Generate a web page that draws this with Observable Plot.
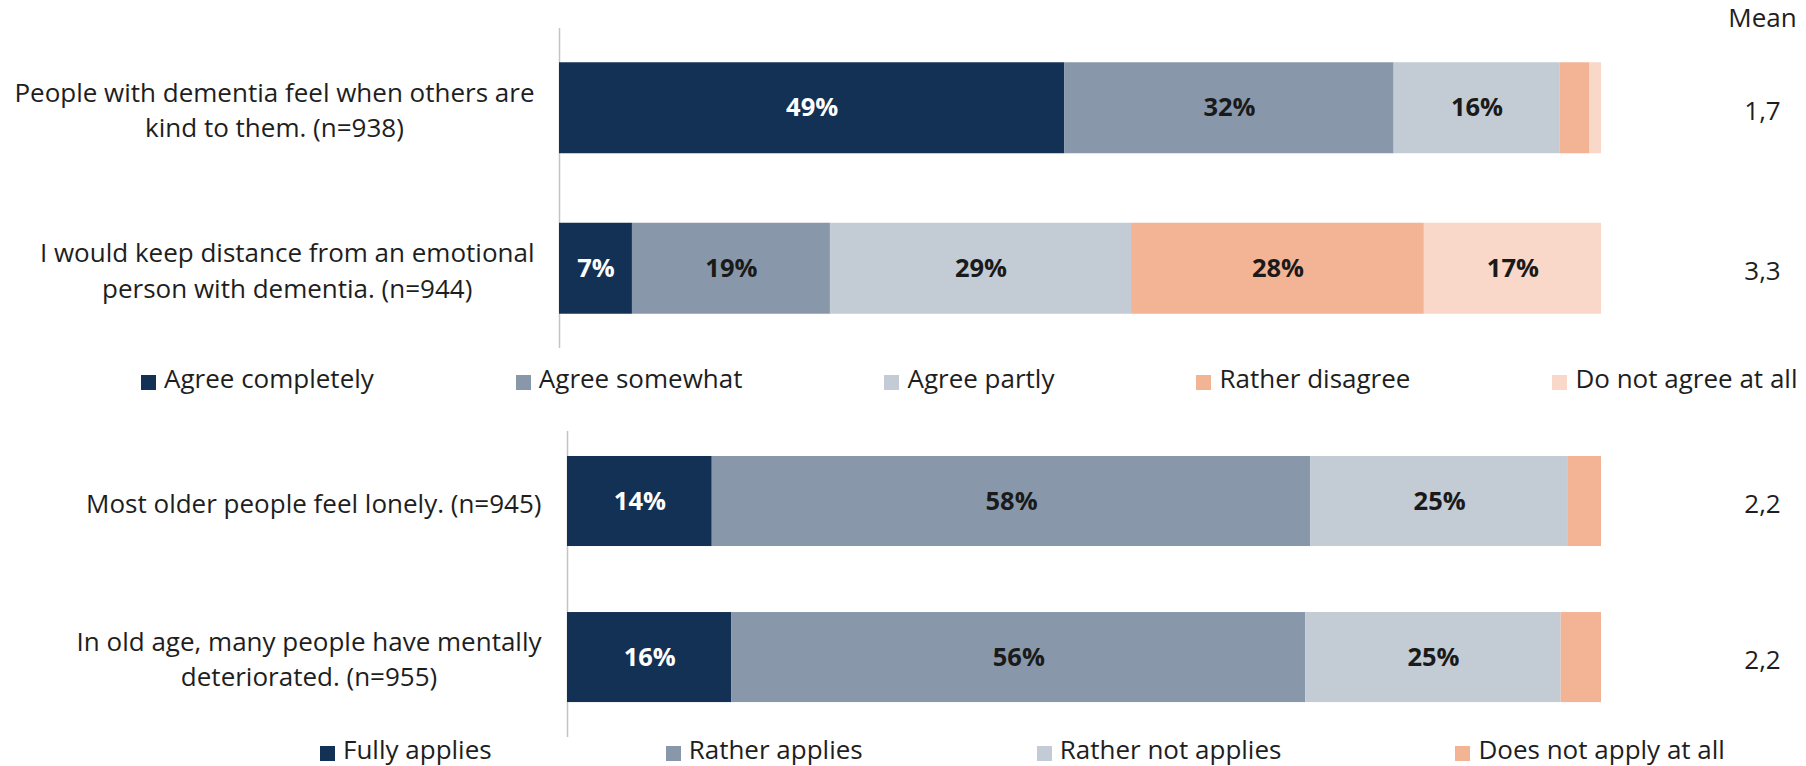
<!DOCTYPE html>
<html>
<head>
<meta charset="utf-8">
<script src="https://cdn.jsdelivr.net/npm/d3@7"></script>
<script src="https://cdn.jsdelivr.net/npm/@observablehq/plot@0.6"></script>
<style>
html, body { margin: 0; padding: 0; background: #fff; }
body { width: 1806px; height: 766px; overflow: hidden; font-family: "Open Sans", sans-serif; color: #222; }
svg { display: block; }
.leg { display: flex; align-items: center; box-sizing: border-box; }
.leg > div { margin: 0 !important; min-height: 0 !important; font-family: "Open Sans", sans-serif !important; font-size: 26px !important; color: #1e1e1e; display: flex; flex-wrap: nowrap; align-items: center; }
.leg > div > span { margin-right: var(--gap) !important; display: inline-flex; align-items: center; white-space: nowrap; }
.leg > div > span > svg { margin-right: 8px !important; position: relative; top: 4px; }
#legA { height: 46px; padding-left: 141px; --gap: 142px; }
#legB { height: 24px; padding-left: 320px; --gap: 174px; }
</style>
</head>
<body>
<div id="chartA"></div>
<div id="legA" class="leg"></div>
<div id="chartB"></div>
<div id="legB" class="leg"></div>
<script>
// ---- data ----
const agreeCategories = ["Agree completely", "Agree somewhat", "Agree partly", "Rather disagree", "Do not agree at all"];
const agreeQuestions = [
  "People with dementia feel when others are\nkind to them. (n=938)",
  "I would keep distance from an emotional\nperson with dementia. (n=944)"
];
const agreeValues = [
  [48.5, 31.6, 15.9, 2.9, 1.1],
  [7.0, 19.0, 28.9, 28.1, 17.0]
];
const agreeMeans = [1.7, 3.3];

const applyCategories = ["Fully applies", "Rather applies", "Rather not applies", "Does not apply at all"];
const applyQuestions = [
  "Most older people feel lonely. (n=945)",
  "In old age, many people have mentally\ndeteriorated. (n=955)"
];
const applyValues = [
  [14.0, 57.9, 24.9, 3.2],
  [15.9, 55.5, 24.7, 3.9]
];
const applyMeans = [2.2, 2.2];

// ---- style ----
const palette = ["#133154", "#8898aa", "#c3cbd4", "#f3b496", "#f9d8c9"];
const FONT = 26;
const BOLD = 25.5;
const ctx = document.createElement("canvas").getContext("2d");
ctx.font = `${FONT}px "Open Sans"`;
const blockWidth = s => d3.max(s.split("\n"), l => ctx.measureText(l).width);

function panel({categories, questions, values, means, height, marginLeft, marginTop, marginBottom,
                paddingInner, paddingOuter, align, labelGap, meanHeader}) {
  const rows = questions.flatMap((q, i) => categories.map((c, j) => ({question: q, category: c, value: values[i][j]})));
  const meanRows = questions.map((q, i) => ({question: q, mean: means[i]}));
  const label = d => d.value >= 5 ? `${Math.round(d.value)}%` : "";
  const stack = opts => Plot.stackX({x: "value", y: "question", z: "category", order: categories, ...opts});
  return Plot.plot({
    width: 1806, height, marginLeft, marginRight: 205, marginTop, marginBottom,
    x: {domain: [0, 100], axis: null},
    y: {domain: questions, axis: null, paddingInner, paddingOuter, align, round: false},
    color: {domain: categories, range: palette.slice(0, categories.length)},
    style: {fontFamily: '"Open Sans", sans-serif', fontSize: `${FONT}px`, color: "#1e1e1e", background: "#fff", overflow: "visible"},
    marks: [
      Plot.ruleX([0], {stroke: "#c4c4c4", strokeWidth: 1.5}),
      Plot.barX(rows, stack({fill: "category"})),
      Plot.text(rows, stack({text: d => d.category === categories[0] ? label(d) : "", fill: "#ffffff", fontWeight: "bold", fontSize: BOLD})),
      Plot.text(rows, stack({text: d => d.category !== categories[0] ? label(d) : "", fill: "#1a1a1a", fontWeight: "bold", fontSize: BOLD})),
      ...questions.map(q => Plot.text([q], {
        x: 0, y: d => d, text: d => d, textAnchor: "middle", lineAnchor: "middle", lineHeight: 1.35,
        dx: -(labelGap + blockWidth(q) / 2), fill: "#1e1e1e", fontSize: FONT
      })),
      Plot.text(meanRows, {
        y: "question", text: d => d.mean.toFixed(1).replace(".", ","), frameAnchor: "right",
        dx: 161, dy: 3, textAnchor: "middle", fill: "#1e1e1e", fontSize: FONT
      }),
      meanHeader ? Plot.text(["Mean"], {frameAnchor: "top-right", dx: 161, dy: -10, textAnchor: "middle", lineAnchor: "middle", fill: "#1e1e1e", fontSize: FONT}) : null
    ]
  });
}

function legend(categories) {
  return Plot.legend({
    color: {type: "ordinal", domain: categories, range: palette.slice(0, categories.length)},
    legend: "swatches", swatchSize: 15
  });
}

document.getElementById("chartA").append(panel({
  categories: agreeCategories, questions: agreeQuestions, values: agreeValues, means: agreeMeans,
  height: 355, marginLeft: 559, marginTop: 28, marginBottom: 7,
  paddingInner: 0.433, paddingOuter: 0.2135, align: 0.5, labelGap: 25, meanHeader: true
}));
document.getElementById("legA").append(legend(agreeCategories));
document.getElementById("chartB").append(panel({
  categories: applyCategories, questions: applyQuestions, values: applyValues, means: applyMeans,
  height: 336, marginLeft: 567, marginTop: 30, marginBottom: 0,
  paddingInner: 0.423, paddingOuter: 0.192, align: 0.417, labelGap: 26, meanHeader: false
}));
document.getElementById("legB").append(legend(applyCategories));
</script>
</body>
</html>
